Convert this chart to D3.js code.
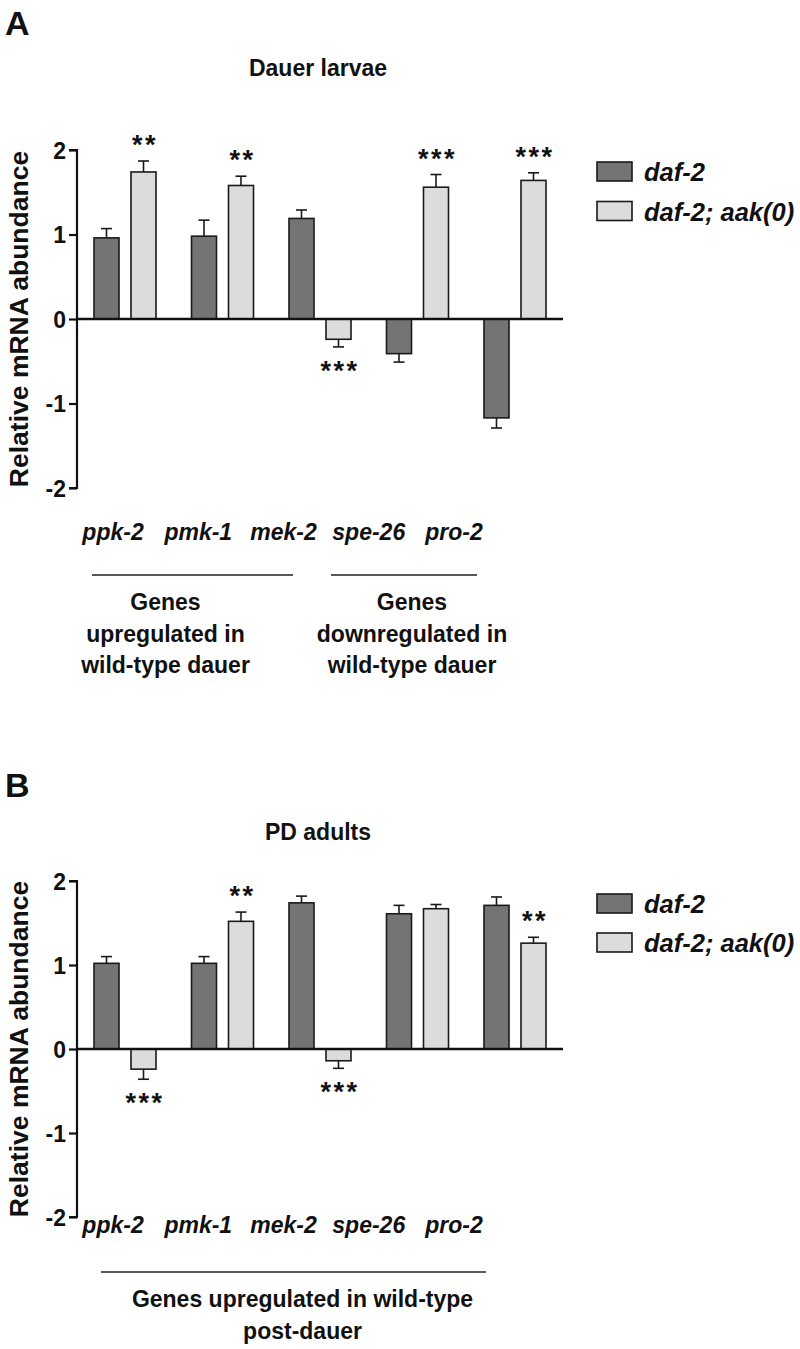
<!DOCTYPE html>
<html>
<head>
<meta charset="utf-8">
<script src="https://cdn.jsdelivr.net/npm/d3@7"></script>
<style>
  html, body { margin: 0; padding: 0; background: #fff; }
  svg { display: block; font-family: "Liberation Sans", Arial, sans-serif; }
</style>
</head>
<body>
<svg id="chart" width="800" height="1349"></svg>
<script>
// ---------- DATA ----------
const genes = ["ppk-2", "pmk-1", "mek-2", "spe-26", "pro-2"];
const seriesNames = ["daf-2", "daf-2; aak(0)"];
const yTickValues = [-2, -1, 0, 1, 2];

// Panel A: Dauer larvae
const dauerDaf2 = [0.96, 0.98, 1.19, -0.41, -1.17];
const dauerDaf2Err = [0.11, 0.19, 0.10, 0.10, 0.12];
const dauerAak = [1.74, 1.58, -0.24, 1.56, 1.64];
const dauerAakErr = [0.13, 0.11, 0.09, 0.15, 0.09];
const dauerAakSig = ["**", "**", "***", "***", "***"];

// Panel B: PD adults
const pdDaf2 = [1.02, 1.02, 1.74, 1.61, 1.71];
const pdDaf2Err = [0.08, 0.08, 0.08, 0.10, 0.10];
const pdAak = [-0.24, 1.52, -0.14, 1.67, 1.26];
const pdAakErr = [0.12, 0.11, 0.09, 0.05, 0.07];
const pdAakSig = ["***", "**", "***", "", "**"];

// ---------- STYLE ----------
const darkFill = "#747474";
const lightFill = "#dcdcdc";
const ink = "#111";
const FONT = "'Liberation Sans', Arial, sans-serif";

const svg = d3.select("#chart");

function drawPanel(cfg) {
  const g = svg.append("g");
  const y = d3.scaleLinear().domain([-2, 2]).range([cfg.yBottom, cfg.yTop]);
  const x = d3.scaleBand().domain(genes).range([94, 546]).paddingInner(0.364).paddingOuter(0);
  const xs = d3.scaleBand().domain(seriesNames).range([0, x.bandwidth()]).paddingInner(0.324);
  const labelX = d3.scalePoint().domain(genes).range([113, 454]);
  const axisX = 77;

  // panel letter
  g.append("text").attr("x", 5).attr("y", cfg.letterY)
    .attr("font-size", 34).attr("font-weight", "bold").attr("fill", ink)
    .text(cfg.letter);
  // title
  g.append("text").attr("x", 318).attr("y", cfg.titleY).attr("text-anchor", "middle")
    .attr("font-size", 23).attr("font-weight", "bold").attr("fill", ink)
    .text(cfg.title);

  // y axis
  const yAxis = d3.axisLeft(y).tickValues(yTickValues).tickFormat(d3.format("d"))
    .tickSize(8).tickPadding(3);
  const ag = g.append("g").attr("transform", `translate(${axisX},0)`).call(yAxis);
  ag.select(".domain").attr("stroke", ink).attr("stroke-width", 2.2)
    .attr("d", `M-8,${y(2)}H0V${y(-2)}H-8`);
  ag.selectAll(".tick line").attr("stroke", ink).attr("stroke-width", 2.2);
  ag.selectAll(".tick text").attr("font-size", 23).attr("font-weight", "bold")
    .attr("fill", ink).attr("font-family", FONT).attr("dy", "0.36em")
    .text(d => d < 0 ? "-" + Math.abs(d) : d);

  // y title
  g.append("text")
    .attr("transform", `translate(28,${(y(2) + y(-2)) / 2}) rotate(-90)`)
    .attr("text-anchor", "middle").attr("font-size", 26.5).attr("font-weight", "bold")
    .attr("fill", ink).text("Relative mRNA abundance");

  const rows = genes.map((gene, i) => [
    { gene, s: seriesNames[0], v: cfg.d2[i], e: cfg.d2e[i], sig: "", fill: darkFill },
    { gene, s: seriesNames[1], v: cfg.ak[i], e: cfg.ake[i], sig: cfg.sig[i], fill: lightFill }
  ]).flat();

  // bars
  g.append("g").selectAll("rect").data(rows).join("rect")
    .attr("x", d => x(d.gene) + xs(d.s))
    .attr("width", xs.bandwidth())
    .attr("y", d => y(Math.max(0, d.v)))
    .attr("height", d => Math.abs(y(d.v) - y(0)))
    .attr("fill", d => d.fill)
    .attr("stroke", "#1a1a1a").attr("stroke-width", 1.6);

  // error bars
  const eg = g.append("g").attr("stroke", "#1a1a1a").attr("stroke-width", 1.6).attr("fill", "none");
  rows.forEach(d => {
    const cx = x(d.gene) + xs(d.s) + xs.bandwidth() / 2;
    const tip = d.v >= 0 ? d.v + d.e : d.v - d.e;
    eg.append("line").attr("x1", cx).attr("x2", cx).attr("y1", y(d.v)).attr("y2", y(tip));
    eg.append("line").attr("x1", cx - 5.5).attr("x2", cx + 5.5).attr("y1", y(tip)).attr("y2", y(tip));
  });

  // significance stars
  g.append("g").selectAll("text").data(rows.filter(d => d.sig)).join("text")
    .attr("x", d => x(d.gene) + xs(d.s) + xs.bandwidth() / 2 + 1.5)
    .attr("y", d => {
      const tip = d.v >= 0 ? d.v + d.e : d.v - d.e;
      const c = d.v >= 0 ? y(tip) - 20 : y(tip) + 20;
      return c + 13;
    })
    .attr("text-anchor", "middle").attr("font-size", 27).attr("font-weight", "bold")
    .attr("letter-spacing", 2.5)
    .attr("fill", ink).text(d => d.sig);

  // zero line
  g.append("line").attr("x1", axisX).attr("x2", 563).attr("y1", y(0)).attr("y2", y(0))
    .attr("stroke", ink).attr("stroke-width", 2.6);

  // gene labels
  g.append("g").selectAll("text").data(genes).join("text")
    .attr("x", d => labelX(d)).attr("y", cfg.geneY).attr("text-anchor", "middle")
    .attr("font-size", 23).attr("font-weight", "bold").attr("font-style", "italic")
    .attr("fill", ink).text(d => d);

  // legend
  const lg = g.append("g");
  seriesNames.forEach((s, i) => {
    const top = cfg.legendTop + i * cfg.legendStep;
    lg.append("rect").attr("x", 597).attr("y", top).attr("width", 35).attr("height", 19)
      .attr("fill", i === 0 ? darkFill : lightFill).attr("stroke", "#1a1a1a").attr("stroke-width", 1.6);
    lg.append("text").attr("x", 644).attr("y", top + 19).attr("font-size", 25.5)
      .attr("font-weight", "bold").attr("font-style", "italic").attr("fill", ink).text(s);
  });

  // group brackets
  cfg.groups.forEach(gr => {
    g.append("line").attr("x1", gr.x1).attr("x2", gr.x2).attr("y1", cfg.bracketY).attr("y2", cfg.bracketY)
      .attr("stroke", "#222").attr("stroke-width", 1.6);
    const cx = (gr.x1 + gr.x2) / 2 + gr.dx;
    gr.lines.forEach((t, j) => {
      g.append("text").attr("x", cx).attr("y", cfg.groupTextY + j * 31.5)
        .attr("text-anchor", "middle").attr("font-size", 23).attr("font-weight", "bold")
        .attr("fill", ink).text(t);
    });
  });
}

drawPanel({
  letter: "A", letterY: 35, title: "Dauer larvae", titleY: 76,
  yTop: 150, yBottom: 488,
  d2: dauerDaf2, d2e: dauerDaf2Err, ak: dauerAak, ake: dauerAakErr, sig: dauerAakSig,
  geneY: 540, legendTop: 162, legendStep: 39.5,
  bracketY: 575, groupTextY: 610,
  groups: [
    { x1: 92, x2: 293, dx: -27, lines: ["Genes", "upregulated in", "wild-type dauer"] },
    { x1: 331, x2: 477, dx: 8, lines: ["Genes", "downregulated in", "wild-type dauer"] }
  ]
});

drawPanel({
  letter: "B", letterY: 797, title: "PD adults", titleY: 840,
  yTop: 881, yBottom: 1217,
  d2: pdDaf2, d2e: pdDaf2Err, ak: pdAak, ake: pdAakErr, sig: pdAakSig,
  geneY: 1233, legendTop: 894, legendStep: 39,
  bracketY: 1272, groupTextY: 1307,
  groups: [
    { x1: 101, x2: 486, dx: 9, lines: ["Genes upregulated in wild-type", "post-dauer"] }
  ]
});
</script>
</body>
</html>
